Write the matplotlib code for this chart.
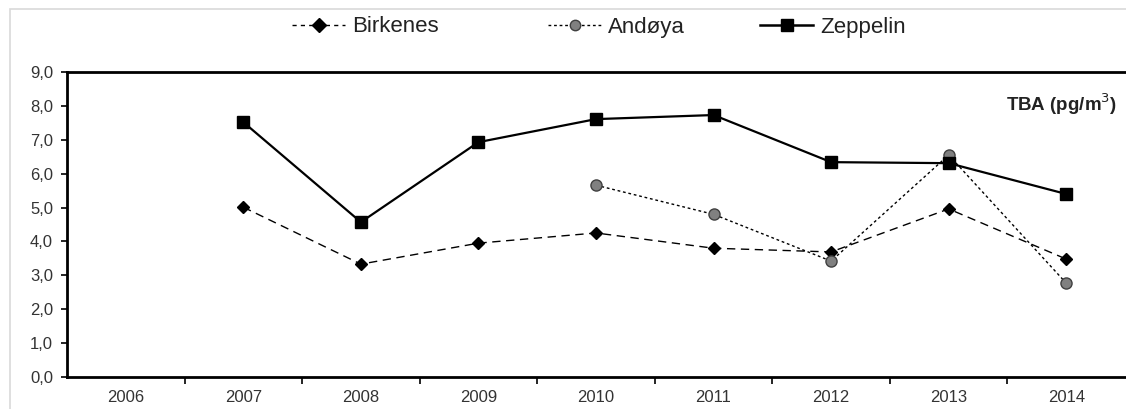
import matplotlib
matplotlib.use("Agg")
import matplotlib.pyplot as plt
from matplotlib.lines import Line2D
from matplotlib.patches import Rectangle
import numpy as np

plt.rcParams['font.family'] = ['Liberation Sans', 'DejaVu Sans']

years = ["2006", "2007", "2008", "2009", "2010", "2011", "2012", "2013", "2014"]
birkenes = [np.nan, 5.01, 3.33, 3.95, 4.25, 3.80, 3.69, 4.96, 3.48]
andoya = [np.nan, np.nan, np.nan, np.nan, 5.66, 4.80, 3.42, 6.55, 2.77]
zeppelin = [np.nan, 7.52, 4.57, 6.93, 7.61, 7.73, 6.34, 6.31, 5.40]
yticks = [0, 1, 2, 3, 4, 5, 6, 7, 8, 9]

W, H = 1126, 409
fig = plt.figure(figsize=(W / 100, H / 100), dpi=100)
fig.patch.set_facecolor("white")

# light outer frame
fig.patches.append(Rectangle((10 / W, -0.05), 1.2, 1 - 9 / H + 0.05,
                             transform=fig.transFigure, fill=False,
                             edgecolor="#d9d9d9", linewidth=1.2))

left, right, top, bottom = 67, 1125, 72, 377
ax = fig.add_axes([left / W, 1 - bottom / H, (right - left) / W, (bottom - top) / H])

x = np.arange(len(years))


def seg(vals):
    v = np.array(vals, dtype=float)
    m = ~np.isnan(v)
    return x[m], v[m]


styles = {
    "Birkenes": dict(color="black", linestyle=(0, (6, 4)), linewidth=1.0,
                     marker="D", markersize=6.5, markerfacecolor="black",
                     markeredgecolor="black"),
    "Andøya": dict(color="black", linestyle=(0, (2, 2)), linewidth=1.0,
                   marker="o", markersize=8, markerfacecolor="#808080",
                   markeredgecolor="#404040", markeredgewidth=1.0),
    "Zeppelin": dict(color="black", linestyle="-", linewidth=1.6,
                     marker="s", markersize=9, markerfacecolor="black",
                     markeredgecolor="black"),
}

ax.plot(*seg(birkenes), zorder=3, **styles["Birkenes"])
ax.plot(*seg(andoya), zorder=3, **styles["Andøya"])
ax.plot(*seg(zeppelin), zorder=4, **styles["Zeppelin"])

ax.set_xlim(-0.5, len(years) - 0.5)
ax.set_ylim(0, 9)
ax.set_yticks(yticks)
ax.set_yticklabels([f"{v:.1f}".replace(".", ",") for v in yticks],
                   fontsize=12, color="#333333")
ax.set_xticks(x)
ax.set_xticklabels(years, fontsize=12, color="#333333")
ax.set_xticks(np.arange(0.5, len(years) - 0.5, 1), minor=True)
ax.tick_params(axis="x", which="major", length=0, pad=9)
ax.tick_params(axis="x", which="minor", length=5, width=1.2, direction="out")
ax.tick_params(axis="y", length=4, width=1.2, direction="out", pad=6)

for s in ("left", "bottom", "top"):
    ax.spines[s].set_linewidth(2.0)
    ax.spines[s].set_color("black")
ax.spines["right"].set_visible(False)

ax.text(0.993, 0.895, "TBA (pg/m$^3$)", transform=ax.transAxes, ha="right",
        va="center", fontsize=13.5, fontweight="bold", color="#222222")

# legend entries placed individually along the top
legend_specs = [
    ("Birkenes", 292, dict(color="black", linestyle=(0, (3, 3)), linewidth=1.0,
                           marker="D", markersize=7, markerfacecolor="black")),
    ("Andøya", 548, dict(color="black", linestyle=(0, (2, 2)), linewidth=1.0,
                         marker="o", markersize=7.5, markerfacecolor="#808080",
                         markeredgecolor="#404040")),
    ("Zeppelin", 760, dict(color="black", linestyle="-", linewidth=1.8,
                           marker="s", markersize=8.5, markerfacecolor="black")),
]
for label, xpix, kw in legend_specs:
    fig.legend([Line2D([], [], **kw)], [label], loc="center left",
               bbox_to_anchor=(xpix / W, 1 - 27 / H), frameon=False,
               fontsize=16, handlelength=2.4, handletextpad=0.3,
               borderpad=0, borderaxespad=0, labelcolor="#222222")

fig.savefig("out.png", dpi=100, facecolor="white")
